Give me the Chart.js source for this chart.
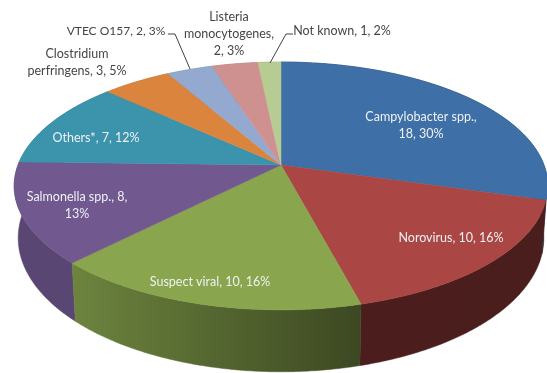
<!DOCTYPE html>
<html>
<head>
<meta charset="utf-8">
<style>
  html, body { margin: 0; padding: 0; background: #fff; }
  canvas { display: block; }
</style>
<script src="https://cdn.jsdelivr.net/npm/chart.js@4"></script>
</head>
<body>
<canvas id="pie" width="547" height="373"></canvas>
<script>
// Outbreak counts by causative agent
const categories = ['Campylobacter spp.', 'Norovirus', 'Suspect viral', 'Salmonella spp.', 'Others*',
  'Clostridium perfringens', 'VTEC O157', 'Listeria monocytogenes', 'Not known'];
const outbreaks = [18, 10, 10, 8, 7, 3, 2, 2, 1];
const percents = [30, 16, 16, 13, 12, 5, 3, 3, 2];
const sliceColours = ['#3f6fa7', '#aa4643', '#89a54e', '#71588f', '#3c94ac', '#db843d', '#93a9cf', '#cf9190', '#b7cc92'];

// Label text per slice, split over lines, with its anchor on the page
const labelLayout = [
  { i: 0, split: 1, x: 421, y: 117, light: true },
  { i: 1, split: 0, x: 451, y: 238, light: true },
  { i: 2, split: 0, x: 210, y: 282, light: true },
  { i: 3, split: 2, x: 77, y: 197, light: true },
  { i: 4, split: 0, x: 96, y: 138, light: true },
  { i: 5, split: 3, x: 77, y: 54, light: false },
  { i: 6, split: 0, x: 116, y: 31, light: false, size: 12 },
  { i: 7, split: 4, x: 229, y: 17, light: false },
  { i: 8, split: 0, x: 342, y: 31, light: false }
];
const leaders = [
  [[168, 34], [175, 34], [190, 69]],
  [[293, 34], [286, 34], [270, 63]]
];

// Perspective projection of the unit disc onto the page
const view = { cx: 281, cy: 165, a: 263, b: -92.5, k: 0.169 };
function project(angle) {
  const u = Math.cos(angle), v = -Math.sin(angle);
  const w = 1 + view.k * v;
  return { x: view.cx + view.a * u / w, y: (view.b * v + view.cy) / w, v };
}
function projectLower(p) {
  return { x: view.cx + (p.x - view.cx) * 0.985, y: p.y + 52 + (p.y - 186) * 0.08 };
}

function shadeAt(angle) {
  // clockwise position from twelve o'clock, in degrees
  const d = (angle + Math.PI / 2) * 180 / Math.PI;
  if (d <= 165) return 0.44;
  if (d >= 224) return 0.8;
  return 0.44 + (d - 165) / 59 * 0.36;
}
function darken(hex, f) {
  const n = parseInt(hex.slice(1), 16);
  return `rgb(${((n >> 16) & 255) * f | 0},${((n >> 8) & 255) * f | 0},${(n & 255) * f | 0})`;
}

function labelLines(i) {
  const full = `${categories[i]}, ${outbreaks[i]}, ${percents[i]}%`;
  const words = full.split(' ');
  const split = labelLayout.find(l => l.i === i).split;
  if (!split) return [full];
  if (split === 4) return [words[0], words[1], words.slice(2).join(' ')];
  if (split === 3) return [words[0], words.slice(1).join(' ')];
  if (split === 2) return [words.slice(0, 3).join(' '), words.slice(3).join(' ')];
  return [words.slice(0, 2).join(' '), words.slice(2).join(' ')];
}

function rimPoints(arc) {
  const n = Math.max(4, Math.ceil((arc.endAngle - arc.startAngle) / 0.01));
  const pts = [];
  for (let s = 0; s <= n; s++) {
    pts.push(project(arc.startAngle + (arc.endAngle - arc.startAngle) * s / n));
  }
  return pts;
}

const pie3d = {
  id: 'pie3d',
  beforeDatasetsDraw(chart) {
    const ctx = chart.ctx;
    const arcs = chart.getDatasetMeta(0).data;
    ctx.save();

    // Wall of the disc, far slices first, shaded along its run
    const byDepth = arcs.slice().sort((p, q) =>
      Math.sin((p.startAngle + p.endAngle) / 2) - Math.sin((q.startAngle + q.endAngle) / 2));
    byDepth.forEach(arc => {
      const colour = arc.options.backgroundColor;
      const pts = rimPoints(arc);
      const first = pts[0], last = pts[pts.length - 1];
      const grad = ctx.createLinearGradient(first.x, 0, last.x === first.x ? first.x + 1 : last.x, 0);
      grad.addColorStop(0, darken(colour, shadeAt(arc.startAngle)));
      grad.addColorStop(1, darken(colour, shadeAt(arc.endAngle)));
      ctx.fillStyle = grad;
      ctx.strokeStyle = grad;
      ctx.lineWidth = 0.5;
      ctx.beginPath();
      pts.forEach((p, j) => j ? ctx.lineTo(p.x, p.y) : ctx.moveTo(p.x, p.y));
      pts.slice().reverse().forEach(p => {
        const q = projectLower(p);
        ctx.lineTo(q.x, q.y);
      });
      ctx.closePath();
      ctx.fill();
      ctx.stroke();
    });

    // Top face of each slice
    arcs.forEach(arc => {
      const colour = arc.options.backgroundColor;
      ctx.fillStyle = colour;
      ctx.strokeStyle = colour;
      ctx.lineWidth = 0.5;
      ctx.beginPath();
      ctx.moveTo(view.cx, view.cy);
      rimPoints(arc).forEach(p => ctx.lineTo(p.x, p.y));
      ctx.closePath();
      ctx.fill();
      ctx.stroke();
    });

    // Leader lines
    ctx.strokeStyle = '#404040';
    ctx.lineWidth = 1;
    leaders.forEach(path => {
      ctx.beginPath();
      path.forEach((pt, j) => j ? ctx.lineTo(pt[0], pt[1]) : ctx.moveTo(pt[0], pt[1]));
      ctx.stroke();
    });

    // Data labels
    ctx.textAlign = 'center';
    ctx.textBaseline = 'middle';
    labelLayout.forEach(l => {
      ctx.font = `${l.size || 12.5}px Lato, "Open Sans", sans-serif`;
      ctx.fillStyle = l.light ? '#eef1f4' : '#454545';
      labelLines(l.i).forEach((line, j) => ctx.fillText(line, l.x, l.y + j * 17));
    });

    ctx.restore();
    return false;
  }
};

new Chart(document.getElementById('pie'), {
  type: 'pie',
  data: {
    labels: categories,
    datasets: [{ data: outbreaks, backgroundColor: sliceColours, borderWidth: 0 }]
  },
  options: {
    responsive: false,
    animation: false,
    rotation: 0,
    plugins: { legend: { display: false }, tooltip: { enabled: false } }
  },
  plugins: [pie3d]
});
</script>
</body>
</html>
